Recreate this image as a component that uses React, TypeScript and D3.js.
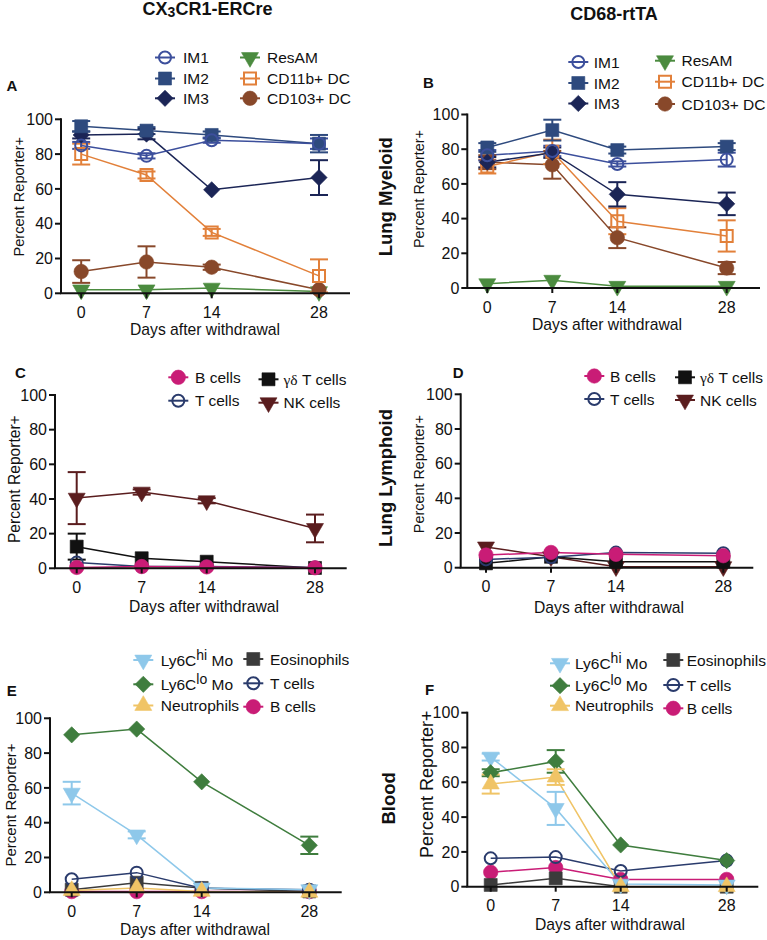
import React from 'react';
import * as d3 from 'd3';

const FONT = '"Liberation Sans", Arial, Helvetica, sans-serif';

const days = [0, 7, 14, 28];
const dayLabels = ['0', '7', '14', '28'];
const yTickValues = [0, 20, 40, 60, 80, 100];

// colours
const cIM1 = '#3c4f9c';
const cIM2 = '#2e4a7e';
const cIM3 = '#1b2556';
const cResAM = '#4b8b3f';
const cCD11b = '#e2803a';
const cCD103 = '#88482a';
const cB = '#c91c76';
const cT = '#2a3b6c';
const cGD = '#111111';
const cNK = '#5a1d1e';
const cHi = '#8ec8ea';
const cLo = '#3f7d3e';
const cNeu = '#f0c466';
const cEos = '#3b3b3b';

// Panel A (CX3CR1-ERCre, lung myeloid)
const aIM1 = [85, 79, 88, 86];
const aIM1Err = [2, 1.5, 1.5, 3];
const aIM2 = [96, 93.5, 91, 86];
const aIM2Err = [3, 2, 2, 5];
const aIM3 = [91, 91.5, 59.5, 66.5];
const aIM3Err = [2, 3, 1, 10];
const aResAM = [2, 2, 3, 1];
const aCD11b = [80, 68, 35, 10];
const aCD11bErr = [6, 2, 2, 9.5];
const aCD103 = [12.5, 18, 15, 2];
const aCD103Err = [6.5, 9, 1.5, 1];

// Panel B (CD68-rtTA, lung myeloid)
const bIM1 = [76.5, 79, 71.5, 74];
const bIM1Err = [3, 3, 1.5, 4];
const bIM2 = [81, 91, 79.5, 81.5];
const bIM2Err = [2.5, 6, 2, 2];
const bIM3 = [72.5, 78, 54, 48.5];
const bIM3Err = [3, 3, 7, 6.5];
const bResAM = [2.5, 4.5, 1, 1];
const bCD11b = [70, 78.5, 38.5, 30];
const bCD11bErr = [4, 7, 7.5, 9];
const bCD103 = [72.5, 71, 29, 11.5];
const bCD103Err = [4, 8, 6, 3.5];

// Panel C (CX3CR1-ERCre, lung lymphoid)
const cBcells = [0.5, 1, 0.8, 0.3];
const cTcells = [3.3, 1, 1, 0.5];
const cGDcells = [12.5, 5.8, 3.8, 0.2];
const cGDErr = [7.5, 1, 1, 0];
const cNKcells = [40.5, 44, 39, 23];
const cNKErr = [15, 1.5, 1.5, 8];

// Panel D (CD68-rtTA, lung lymphoid)
const dBcells = [7.3, 8.8, 7.7, 6.9];
const dTcells = [4.8, 6, 8.7, 8.3];
const dGDcells = [2.5, 6.3, 3.5, 3.5];
const dNKcells = [12, 6.3, 0.6, 0.6];

// Panel E (CX3CR1-ERCre, blood)
const eHi = [57, 33, 2.5, 1.5];
const eHiErr = [6.5, 2, 1, 0.5];
const eLo = [90.5, 93.8, 63.5, 27];
const eLoErr = [1, 1, 1, 5];
const eNeu = [1, 2.5, 0.5, 0];
const eEos = [1.5, 5.5, 2.5, 0.5];
const eTcells = [7.5, 11.3, 2.3, 1.5];
const eBcells = [0.4, 0.4, 0.4, 0.4];

// Panel F (CD68-rtTA, blood)
const fHi = [74.5, 45, 1.5, 1];
const fHiErr = [2, 9.5, 0.5, 0.5];
const fLo = [65.5, 72, 24, 15];
const fLoErr = [2, 6.5, 1, 1];
const fNeu = [59, 63, 0, 0];
const fNeuErr = [5.5, 4.5, 0, 0];
const fEos = [1, 4.8, 0, 0];
const fTcells = [16.3, 17, 9, 15];
const fBcells = [8.3, 11, 4.2, 4.2];

type Shape = 'circle' | 'square' | 'diamond' | 'triDown' | 'triUp';

interface Series {
  key: string;
  label: React.ReactNode;
  values: number[];
  errors?: number[];
  color: string;
  shape: Shape;
  open?: boolean;
  col: number;
  row: number;
}

interface Layout {
  letter: string;
  letterX: number;
  letterY: number;
  yAxisX: number;
  yTop: number;
  yBottom: number;
  xPos: number[];
  xEnd: number;
  xLabelX: number;
  xLabelY: number;
  yLabelX: number;
  yLabelY: number;
  yLabelSize: number;
  legendX: number[];
  legendTextDx: number[];
  legendRows: number[][];
}

function markerPath(shape: Shape, open?: boolean): { d: string; rot: number } {
  switch (shape) {
    case 'circle':
      return { d: d3.symbol(d3.symbolCircle, Math.PI * (open ? 36 : 52))() as string, rot: 0 };
    case 'square':
      return { d: d3.symbol(d3.symbolSquare, open ? 144 : 169)() as string, rot: 0 };
    case 'diamond':
      return { d: d3.symbol(d3.symbolSquare, 132)() as string, rot: 45 };
    case 'triDown':
      return { d: d3.symbol(d3.symbolTriangle, 125)() as string, rot: 180 };
    case 'triUp':
      return { d: d3.symbol(d3.symbolTriangle, 125)() as string, rot: 0 };
  }
}

function Marker({ x, y, s }: { x: number; y: number; s: Series }) {
  const m = markerPath(s.shape, s.open);
  return (
    <path
      d={m.d}
      transform={`translate(${x},${y}) rotate(${m.rot})`}
      fill={s.open ? 'none' : s.color}
      stroke={s.color}
      strokeWidth={s.open ? 2 : 0.6}
    />
  );
}

function Panel({ L, series }: { L: Layout; series: Series[] }) {
  const x = d3.scaleLinear().domain(days).range(L.xPos);
  const y = d3.scaleLinear().domain([0, 100]).range([L.yBottom, L.yTop]);
  const line = d3
    .line<number>()
    .x((_, i) => x(days[i]))
    .y((v) => y(v));
  return (
    <g>
      <text x={L.letterX} y={L.letterY} fontSize={15} fontWeight="bold" fill="#111">
        {L.letter}
      </text>
      {/* series lines */}
      {series.map((s) => (
        <path key={s.key + 'l'} d={line(s.values) as string} fill="none" stroke={s.color} strokeWidth={1.5} />
      ))}
      {/* error bars */}
      {series.map((s) =>
        (s.errors || []).map((e, i) => {
          if (e < 1.5) return null;
          const v = s.values[i];
          const cx = x(days[i]);
          const lo = y(Math.max(0, v - e));
          const hi = y(Math.min(100, v + e));
          return (
            <g key={s.key + 'e' + i} stroke={s.color} strokeWidth={2}>
              <line x1={cx} x2={cx} y1={lo} y2={hi} />
              <line x1={cx - 9} x2={cx + 9} y1={hi} y2={hi} />
              <line x1={cx - 9} x2={cx + 9} y1={lo} y2={lo} />
            </g>
          );
        })
      )}
      {/* markers */}
      {series.map((s) =>
        s.values.map((v, i) => <Marker key={s.key + 'm' + i} x={x(days[i])} y={y(v)} s={s} />)
      )}
      {/* axes */}
      <g stroke="#111" strokeWidth={2}>
        <line x1={L.yAxisX} x2={L.yAxisX} y1={y(100) - 1} y2={y(0)} />
        <line x1={L.yAxisX - 1} x2={L.xEnd} y1={y(0)} y2={y(0)} />
        {yTickValues.map((t) => (
          <line key={'yt' + t} x1={L.yAxisX - 6} x2={L.yAxisX} y1={y(t)} y2={y(t)} />
        ))}
        {days.map((d) => (
          <line key={'xt' + d} x1={x(d)} x2={x(d)} y1={y(0)} y2={y(0) + 5} />
        ))}
      </g>
      {yTickValues.map((t) => (
        <text key={'yl' + t} x={L.yAxisX - 8} y={y(t)} dy="0.36em" textAnchor="end" fontSize={16} fill="#111">
          {t}
        </text>
      ))}
      {days.map((d, i) => (
        <text key={'xl' + d} x={x(d)} y={y(0) + 24.5} textAnchor="middle" fontSize={16} fill="#111">
          {dayLabels[i]}
        </text>
      ))}
      <text x={L.xLabelX} y={L.xLabelY} textAnchor="middle" fontSize={15.7} fill="#111">
        Days after withdrawal
      </text>
      <text
        transform={`translate(${L.yLabelX},${L.yLabelY}) rotate(-90)`}
        textAnchor="middle"
        fontSize={L.yLabelSize}
        fill="#111"
      >
        Percent Reporter+
      </text>
      {/* legend */}
      {series.map((s) => {
        const lx = L.legendX[s.col];
        const ly = L.legendRows[s.col][s.row];
        return (
          <g key={s.key + 'lg'}>
            <line x1={lx - 10} x2={lx + 10} y1={ly} y2={ly} stroke={s.color} strokeWidth={2} />
            <Marker x={lx} y={ly} s={s} />
            <text x={lx + L.legendTextDx[s.col]} y={ly} dy="0.36em" fontSize={15.5} fill="#111">
              {s.label}
            </text>
          </g>
        );
      })}
    </g>
  );
}

const gdLabel = (
  <>
    <tspan fontFamily='"Liberation Serif", "Times New Roman", serif'>γδ</tspan>
    <tspan> T cells</tspan>
  </>
);
const hiLabel = (
  <>
    <tspan>Ly6C</tspan>
    <tspan dy={-6} fontSize={14}>hi</tspan>
    <tspan dy={6}> Mo</tspan>
  </>
);
const loLabel = (
  <>
    <tspan>Ly6C</tspan>
    <tspan dy={-6} fontSize={14}>lo</tspan>
    <tspan dy={6}> Mo</tspan>
  </>
);

function myeloidSeries(im1: number[], im1e: number[], im2: number[], im2e: number[], im3: number[], im3e: number[], res: number[], cd11b: number[], cd11be: number[], cd103: number[], cd103e: number[]): Series[] {
  return [
    { key: 'ResAM', label: 'ResAM', values: res, color: cResAM, shape: 'triDown', col: 1, row: 0 },
    { key: 'CD103', label: 'CD103+ DC', values: cd103, errors: cd103e, color: cCD103, shape: 'circle', col: 1, row: 2 },
    { key: 'CD11b', label: 'CD11b+ DC', values: cd11b, errors: cd11be, color: cCD11b, shape: 'square', open: true, col: 1, row: 1 },
    { key: 'IM3', label: 'IM3', values: im3, errors: im3e, color: cIM3, shape: 'diamond', col: 0, row: 2 },
    { key: 'IM2', label: 'IM2', values: im2, errors: im2e, color: cIM2, shape: 'square', col: 0, row: 1 },
    { key: 'IM1', label: 'IM1', values: im1, errors: im1e, color: cIM1, shape: 'circle', open: true, col: 0, row: 0 },
  ];
}

const seriesA = myeloidSeries(aIM1, aIM1Err, aIM2, aIM2Err, aIM3, aIM3Err, aResAM, aCD11b, aCD11bErr, aCD103, aCD103Err);
const seriesB = myeloidSeries(bIM1, bIM1Err, bIM2, bIM2Err, bIM3, bIM3Err, bResAM, bCD11b, bCD11bErr, bCD103, bCD103Err);

function lymphoidSeries(bc: number[], tc: number[], gd: number[], gde: number[] | undefined, nk: number[], nke: number[] | undefined): Series[] {
  return [
    { key: 'NK', label: 'NK cells', values: nk, errors: nke, color: cNK, shape: 'triDown', col: 1, row: 1 },
    { key: 'GD', label: gdLabel, values: gd, errors: gde, color: cGD, shape: 'square', col: 1, row: 0 },
    { key: 'T', label: 'T cells', values: tc, color: cT, shape: 'circle', open: true, col: 0, row: 1 },
    { key: 'B', label: 'B cells', values: bc, color: cB, shape: 'circle', col: 0, row: 0 },
  ];
}

const seriesC = lymphoidSeries(cBcells, cTcells, cGDcells, cGDErr, cNKcells, cNKErr);
const seriesD = lymphoidSeries(dBcells, dTcells, dGDcells, undefined, dNKcells, undefined);

function bloodSeries(hi: number[], hie: number[], lo: number[], loe: number[], neu: number[], neue: number[] | undefined, eos: number[], tc: number[], bc: number[]): Series[] {
  return [
    { key: 'B', label: 'B cells', values: bc, color: cB, shape: 'circle', col: 1, row: 2 },
    { key: 'Eos', label: 'Eosinophils', values: eos, color: cEos, shape: 'square', col: 1, row: 0 },
    { key: 'T', label: 'T cells', values: tc, color: cT, shape: 'circle', open: true, col: 1, row: 1 },
    { key: 'Hi', label: hiLabel, values: hi, errors: hie, color: cHi, shape: 'triDown', col: 0, row: 0 },
    { key: 'Lo', label: loLabel, values: lo, errors: loe, color: cLo, shape: 'diamond', col: 0, row: 1 },
    { key: 'Neu', label: 'Neutrophils', values: neu, errors: neue, color: cNeu, shape: 'triUp', col: 0, row: 2 },
  ];
}

const seriesE = bloodSeries(eHi, eHiErr, eLo, eLoErr, eNeu, undefined, eEos, eTcells, eBcells);
const seriesF = bloodSeries(fHi, fHiErr, fLo, fLoErr, fNeu, fNeuErr, fEos, fTcells, fBcells);

const layoutA: Layout = {
  letter: 'A', letterX: 6.5, letterY: 90.5,
  yAxisX: 61, yTop: 119.3, yBottom: 293.3, xPos: [81.2, 146.5, 211.7, 319], xEnd: 350,
  xLabelX: 205, xLabelY: 334.5, yLabelX: 24, yLabelY: 196.7, yLabelSize: 14.6,
  legendX: [165, 250], legendTextDx: [18, 17], legendRows: [[57.5, 78.5, 98.3], [57.5, 78.5, 98.3]],
};
const layoutB: Layout = {
  letter: 'B', letterX: 423, letterY: 88.3,
  yAxisX: 467.3, yTop: 114.5, yBottom: 288, xPos: [487.3, 552.3, 617.3, 726.7], xEnd: 760,
  xLabelX: 607, xLabelY: 329.5, yLabelX: 423.5, yLabelY: 189, yLabelSize: 14.4,
  legendX: [578.3, 665], legendTextDx: [15.5, 16.5], legendRows: [[62, 83, 103.5], [60.7, 81.7, 104]],
};
const layoutC: Layout = {
  letter: 'C', letterX: 15, letterY: 378.3,
  yAxisX: 55, yTop: 395, yBottom: 568.3, xPos: [76.7, 141.7, 206.7, 315], xEnd: 346.7,
  xLabelX: 204, xLabelY: 611.5, yLabelX: 19.5, yLabelY: 479.2, yLabelSize: 15.6,
  legendX: [178.3, 268.5], legendTextDx: [16.7, 15], legendRows: [[377.3, 400.7], [379.3, 402.7]],
};
const layoutD: Layout = {
  letter: 'D', letterX: 452.7, letterY: 378.3,
  yAxisX: 460.7, yTop: 394.3, yBottom: 567.7, xPos: [486, 551, 616, 723.3], xEnd: 753.3,
  xLabelX: 609, xLabelY: 613, yLabelX: 423.5, yLabelY: 474.2, yLabelSize: 14.4,
  legendX: [594.3, 685], legendTextDx: [15.7, 15], legendRows: [[376, 399], [377.3, 400]],
};
const layoutE: Layout = {
  letter: 'E', letterX: 6.7, letterY: 696,
  yAxisX: 50, yTop: 718.3, yBottom: 892.3, xPos: [71.7, 136.7, 201.7, 309.3], xEnd: 341.7,
  xLabelX: 195, xLabelY: 935, yLabelX: 15.5, yLabelY: 805, yLabelSize: 15,
  legendX: [143.3, 253.3], legendTextDx: [17.4, 16.7], legendRows: [[660, 684.3, 705.5], [659, 683.3, 706.7]],
};
const layoutF: Layout = {
  letter: 'F', letterX: 425, letterY: 695,
  yAxisX: 467.3, yTop: 712.7, yBottom: 886.7, xPos: [490.7, 555.7, 620.7, 726.7], xEnd: 758.3,
  xLabelX: 610, xLabelY: 930, yLabelX: 433, yLabelY: 784.2, yLabelSize: 18,
  legendX: [560, 673.3], legendTextDx: [15, 13.4], legendRows: [[663.3, 685.7, 705.7], [660, 685, 708.3]],
};

export default function App() {
  return (
    <svg
      width={767}
      height={940}
      style={{ position: 'absolute', left: 0, top: 0, display: 'block' }}
      fontFamily={FONT}
    >
      <rect x={0} y={0} width={767} height={940} fill="#ffffff" />
      <text x={207.5} y={15} textAnchor="middle" fontSize={18} fontWeight="bold" fill="#111">
        <tspan>CX</tspan>
        <tspan fontSize={14} dy={2}>3</tspan>
        <tspan dy={-2}>CR1-ERCre</tspan>
      </text>
      <text x={614} y={20} textAnchor="middle" fontSize={18} fontWeight="bold" fill="#111">
        CD68-rtTA
      </text>
      <text transform="translate(392,196.7) rotate(-90)" textAnchor="middle" fontSize={18.5} fontWeight="bold" fill="#111">
        Lung Myeloid
      </text>
      <text transform="translate(392,478) rotate(-90)" textAnchor="middle" fontSize={18.5} fontWeight="bold" fill="#111">
        Lung Lymphoid
      </text>
      <text transform="translate(395,798.3) rotate(-90)" textAnchor="middle" fontSize={18.5} fontWeight="bold" fill="#111">
        Blood
      </text>
      <Panel L={layoutA} series={seriesA} />
      <Panel L={layoutB} series={seriesB} />
      <Panel L={layoutC} series={seriesC} />
      <Panel L={layoutD} series={seriesD} />
      <Panel L={layoutE} series={seriesE} />
      <Panel L={layoutF} series={seriesF} />
    </svg>
  );
}
